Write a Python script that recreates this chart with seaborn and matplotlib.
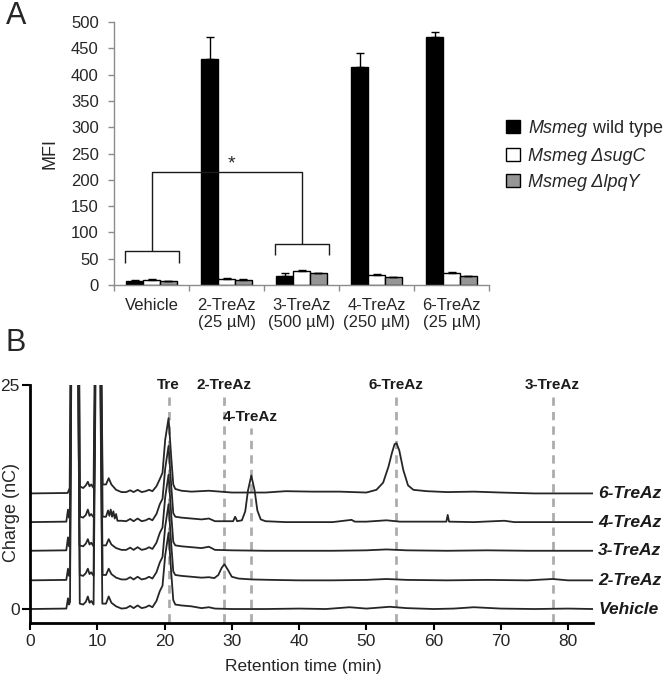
import numpy as np
import pandas as pd
import matplotlib
matplotlib.use("Agg")
import matplotlib.pyplot as plt
import seaborn as sns
from matplotlib.patches import Patch
from matplotlib.transforms import blended_transform_factory

# ---------------- Panel A data ----------------
conditions = ["Vehicle", "2-TreAz\n(25 µM)", "3-TreAz\n(500 µM)", "4-TreAz\n(250 µM)", "6-TreAz\n(25 µM)"]
strains = ["Msmeg wild type", "Msmeg ΔsugC", "Msmeg ΔlpqY"]
mfi_wt = [7, 430, 18, 415, 472]
mfi_sugc = [9, 12, 27, 19, 23]
mfi_lpqy = [7, 10, 22, 15, 17]
err_wt = [2, 42, 4, 27, 9]
err_sugc = [1.5, 1, 2, 2, 2]
err_lpqy = [1, 1, 0.5, 0.5, 1]
bar_colors = ["#000000", "#ffffff", "#969696"]

# ---------------- Panel B data (chromatograms, values relative to own baseline) ----------------
trace_names = ["Vehicle", "2-TreAz", "3-TreAz", "4-TreAz", "6-TreAz"]

t_vehicle = [0, 5.4, 5.65, 5.8, 5.95, 6.15, 6.45, 6.65, 6.95, 7.2, 7.4, 7.9, 8.3, 8.6, 8.85, 9.1, 9.45, 9.8, 10.1,
             10.4, 10.75, 11.3, 11.7, 12.1, 12.8, 13.6, 14.3, 14.9, 15.4, 16.0, 16.6, 17.2, 17.7, 18.2, 18.8,
             19.3, 19.7, 20.1, 20.6, 21.0, 21.3, 21.6, 22.5, 24.0, 25.5, 26.6, 27.5, 30, 35, 40, 44, 47.5,
             50, 53.5, 56, 60, 63, 66, 70, 75, 80, 83.7]
v_vehicle = [0, 0.05, 1.2, 0.5, 0.8, 30, 45, 35, 45, 25, 0.6, 0.5, 0.8, 1.4, 0.7, 0.9, 0.5, 30, 45,
             30, 0.6, 0.6, 1.4, 0.7, 0.3, 0.05, 0.1, 0.35, 0.1, 0.4, 0.1, 0.2, 0.4, 0.2, 0.9,
             2.0, 2.6, 6, 8.5, 4, 1.0, 0.5, 0.4, 0.3, 0.1, 0.2, 0.05, 0.0, 0.0, 0.05, 0, 0.2,
             0.05, 0.25, 0.1, 0, 0.05, 0.2, 0.05, 0.0, 0.05, 0]

t_2treaz = [0, 5.4, 5.65, 5.8, 5.95, 6.2, 6.5, 6.7, 7.0, 7.15, 7.4, 7.9, 8.3, 8.6, 8.85, 9.1, 9.45, 9.75, 10.1,
            10.45, 10.8, 11.3, 11.7, 12.1, 12.8, 13.6, 14.3, 14.9, 15.4, 16.0, 16.6, 17.2, 17.7, 18.2, 18.8,
            19.3, 19.7, 20.1, 20.6, 21.0, 21.3, 21.6, 22.5, 24.0, 25.5, 26.6, 27.4, 28.0, 28.5, 28.9,
            29.4, 30.0, 31, 33, 36, 40, 45, 50, 53, 56, 62, 68, 74, 77.7, 80, 83.7]
v_2treaz = [0, 0.05, 1.3, 0.5, 0.8, 30, 45, 35, 45, 25, 0.6, 0.5, 0.8, 1.3, 0.7, 0.9, 0.5, 30, 45,
            30, 0.6, 0.6, 1.3, 0.7, 0.3, 0.1, 0.1, 0.35, 0.1, 0.4, 0.1, 0.2, 0.4, 0.2, 0.9,
            2.0, 2.6, 6, 8.5, 4, 1.0, 0.6, 0.5, 0.4, 0.3, 0.35, 0.25, 0.6, 1.4, 1.8,
            1.2, 0.4, 0.2, 0.1, 0.05, 0, 0, 0.05, 0.15, 0.05, 0, 0.05, 0, 0.15, 0, 0]

t_3treaz = [0, 5.4, 5.65, 5.8, 5.95, 6.1, 6.4, 6.6, 6.9, 7.1, 7.35, 7.9, 8.3, 8.6, 8.85, 9.1, 9.45, 9.8, 10.1,
            10.35, 10.7, 11.3, 11.7, 12.1, 12.8, 13.6, 14.3, 14.9, 15.4, 16.0, 16.6, 17.2, 17.7, 18.2, 18.8,
            19.3, 19.7, 20.1, 20.6, 21.0, 21.3, 21.6, 22.5, 24.0, 25.5, 26.6, 27.5, 30, 35, 40, 45, 50,
            53, 56, 62, 68, 74, 80, 83.7]
v_3treaz = [0, 0.05, 1.5, 0.5, 0.8, 30, 45, 35, 45, 25, 0.6, 0.5, 0.8, 1.3, 0.7, 0.9, 0.5, 30, 45,
            30, 0.6, 0.6, 1.3, 0.7, 0.3, 0.1, 0.1, 0.35, 0.1, 0.4, 0.1, 0.2, 0.4, 0.2, 0.9,
            2.0, 2.6, 6, 8.5, 4, 1.0, 0.6, 0.5, 0.4, 0.3, 0.45, 0.1, 0.05, 0, 0, 0, 0.05,
            0.15, 0.05, 0, 0.05, 0, 0, 0]

t_4treaz = [0, 5.4, 5.65, 5.8, 5.95, 6.25, 6.5, 6.75, 7.0, 7.25, 7.45, 7.9, 8.3, 8.6, 8.85, 9.1, 9.5, 9.85, 10.15,
            10.45, 10.8, 11.3, 11.6, 11.8, 12.0, 12.2, 12.4, 12.6, 12.8, 13.0, 13.6, 14.3, 14.9, 15.4, 16.0,
            16.6, 17.2, 17.7, 18.2, 18.8, 19.3, 19.7, 20.1, 20.6, 21.0, 21.3, 21.6, 22.5, 24.0, 25.5, 26.6,
            27.5, 30.2, 30.5, 30.8, 31.5, 32.0, 32.4, 32.9, 33.4, 33.8, 34.3, 35, 38, 45, 47.8, 48.3, 50,
            53, 55, 61.9, 62.1, 62.3, 66, 70.5, 72, 80, 83.7]
v_4treaz = [0, 0.05, 1.4, 0.5, 0.8, 30, 45, 35, 45, 25, 0.6, 0.5, 0.8, 1.4, 0.7, 0.9, 0.5, 30, 45,
            30, 0.6, 0.6, 1.3, 0.7, 1.4, 0.6, 1.2, 0.4, 0.9, 0.15, 0.15, 0.1, 0.35, 0.1, 0.4,
            0.1, 0.2, 0.4, 0.2, 0.9, 2.0, 2.6, 6, 8.5, 4, 1.0, 0.6, 0.5, 0.4, 0.3, 0.4,
            0.1, 0.1, 0.6, 0.1, 0.2, 1.2, 3.5, 5.2, 3.5, 1.3, 0.3, 0.1, 0.0, 0.0, 0.25, 0.05, 0.05,
            0.2, 0.05, 0.05, 0.8, 0.05, 0, 0.15, 0, 0, 0]

t_6treaz = [0, 5.6, 5.9, 6.15, 6.45, 6.7, 6.95, 7.2, 7.4, 7.9, 8.3, 8.6, 8.85, 9.1, 9.45, 9.8, 10.1,
            10.4, 10.8, 11.3, 11.7, 12.1, 12.8, 13.6, 14.3, 14.9, 15.4, 16.0, 16.6, 17.2, 17.7, 18.2, 18.8,
            19.3, 19.7, 20.1, 20.6, 21.0, 21.3, 21.6, 22.5, 24.0, 26.6, 30, 35, 38, 42, 46, 50, 51.5,
            52.5, 53.3, 53.8, 54.2, 54.5, 54.9, 55.5, 56.2, 57, 59, 62, 66, 70, 75, 80, 83.7]
v_6treaz = [0, 0.05, 0.6, 30, 45, 35, 45, 25, 0.8, 0.6, 0.9, 1.3, 0.8, 1.0, 0.6, 30, 45,
            30, 1.0, 1.0, 1.7, 1.0, 0.4, 0.15, 0.15, 0.35, 0.15, 0.4, 0.15, 0.25, 0.4, 0.25, 0.8,
            1.6, 2.3, 6, 8.4, 4, 1.0, 0.5, 0.3, 0.2, 0.3, 0.1, 0.1, 0.25, 0.2, 0.2, 0.1, 0.4,
            1.2, 3.0, 4.5, 5.5, 5.6, 4.8, 2.6, 0.9, 0.4, 0.25, 0.15, 0.2, 0.1, 0.0, 0.0, 0.0]

trace_times = [t_vehicle, t_2treaz, t_3treaz, t_4treaz, t_6treaz]
trace_values = [v_vehicle, v_2treaz, v_3treaz, v_4treaz, v_6treaz]

marker_names = ["Tre", "2-TreAz", "4-TreAz", "6-TreAz", "3-TreAz"]
marker_times = [20.6, 28.8, 32.8, 54.4, 77.7]

# ---------------- style ----------------
sns.set_style("ticks")
plt.rcParams["font.family"] = ["Liberation Sans", "DejaVu Sans"]
plt.rcParams["mathtext.fontset"] = "custom"
plt.rcParams["mathtext.it"] = "Liberation Sans:italic"
plt.rcParams["mathtext.rm"] = "Liberation Sans"

W, H = 664, 677
fig = plt.figure(figsize=(W / 100, H / 100), dpi=100)
fig.patch.set_facecolor("white")

def fx(px):
    return px / W

def fy(py):
    return 1 - py / H

# ---------------- Panel A ----------------
axA = fig.add_axes([fx(114), fy(285), fx(489) - fx(114), fy(22) - fy(285)])
df = pd.DataFrame({
    "condition": np.repeat(conditions, 3),
    "strain": strains * len(conditions),
    "MFI": np.ravel(np.column_stack([mfi_wt, mfi_sugc, mfi_lpqy])),
})
sns.barplot(data=df, x="condition", y="MFI", hue="strain", hue_order=strains, order=conditions,
            palette=bar_colors, edgecolor="black", linewidth=1.0, width=0.67, gap=0,
            errorbar=None, legend=False, ax=axA, saturation=1)

errs = [err_wt, err_sugc, err_lpqy]
n = len(conditions)
for i in range(3):
    patches = axA.patches[i * n:(i + 1) * n]
    xs = [p.get_x() + p.get_width() / 2 for p in patches]
    hs = [p.get_height() for p in patches]
    axA.errorbar(xs, hs, yerr=[np.zeros(n), errs[i]], fmt="none", ecolor="black",
                 elinewidth=1.0, capsize=3, capthick=1.0, zorder=1)

axA.set_xlim(-0.5, 4.5)
axA.set_ylim(0, 500)
axA.set_yticks(np.arange(0, 501, 50))
axA.set_xticks(range(n))
axA.set_xticklabels(conditions, fontsize=12, linespacing=1.2)
axA.set_xticks(np.arange(-0.5, n, 1.0), minor=True)
axA.tick_params(axis="x", which="major", length=0, pad=9)
axA.tick_params(axis="x", which="minor", length=4, color="#8c8c8c", width=1, direction="out")
axA.tick_params(axis="y", length=4, color="#8c8c8c", width=1, labelsize=12, pad=7)
axA.set_xlabel("")
axA.set_ylabel("MFI", fontsize=13)
axA.yaxis.set_label_coords(-0.149, 0.5)
for s in ["top", "right"]:
    axA.spines[s].set_visible(False)
for s in ["left", "bottom"]:
    axA.spines[s].set_color("#8c8c8c")
    axA.spines[s].set_linewidth(1.0)

# significance brackets
bk = dict(color="#1a1a1a", lw=1.0, solid_capstyle="butt", clip_on=False)
axA.plot([-0.36, -0.36, 0.36, 0.36], [42, 64, 64, 42], **bk)
axA.plot([2 - 0.36, 2 - 0.36, 2 + 0.36, 2 + 0.36], [57, 78, 78, 57], **bk)
axA.plot([0, 0, 2, 2], [64, 215, 215, 78], **bk)
axA.text(1.07, 230, "*", ha="center", va="center", fontsize=14)

# legend
handles = [Patch(facecolor=c, edgecolor="black", linewidth=1.0) for c in bar_colors]
labels = [r"$\mathit{Msmeg}$ wild type", "Msmeg ΔsugC", "Msmeg ΔlpqY"]
leg = fig.legend(handles, labels, loc="upper left", bbox_to_anchor=(fx(506), fy(118)),
                 frameon=False, fontsize=13, handlelength=0.75, handleheight=0.75,
                 handletextpad=0.45, labelspacing=0.5, borderaxespad=0, borderpad=0)
for t in leg.get_texts()[1:]:
    t.set_style("italic")

# ---------------- Panel B ----------------
axB = fig.add_axes([fx(30), fy(623), fx(593) - fx(30), fy(385) - fy(623)])
offsets = [0, 3.2, 6.5, 9.7, 12.9]
for name, tt, vv, off in zip(trace_names, trace_times, trace_values, offsets):
    sns.lineplot(x=tt, y=np.asarray(vv) + off, ax=axB, color="#262626", lw=1.3,
                 estimator=None, sort=False)

axB.set_xlim(0, 83.7)
axB.set_ylim(-1.56, 25)

label_y = [25, 25, 21.4, 25, 25]
for name, tm, ly in zip(marker_names, marker_times, label_y):
    axB.plot([tm, tm], [-1.45, ly - 1.2], color="#acacac", lw=2, dashes=(3, 2.2), zorder=0)
    axB.text(tm, ly, name, ha="center", va="center", fontsize=11, fontweight="bold",
             color="#1a1a1a")

trans = blended_transform_factory(axB.transAxes, axB.transData)
for name, off in zip(trace_names, offsets):
    axB.text(1.009, off, name, transform=trans, ha="left", va="center", fontsize=12.5,
             fontweight="bold", fontstyle="italic", color="#1a1a1a")

axB.set_xticks(np.arange(0, 81, 10))
axB.set_yticks([0, 25])
axB.tick_params(axis="x", length=5, width=1.5, labelsize=12.5, pad=3, color="black")
axB.tick_params(axis="y", length=6, width=1.5, labelsize=12.5, pad=1.5, color="black")
axB.set_xlabel("Retention time (min)", fontsize=12.5)
axB.xaxis.set_label_coords(0.486, -0.15)
axB.set_ylabel("Charge (nC)", fontsize=13)
axB.yaxis.set_label_coords(-0.018, 0.466)
for s in ["top", "right"]:
    axB.spines[s].set_visible(False)
for s in ["left", "bottom"]:
    axB.spines[s].set_color("black")
    axB.spines[s].set_linewidth(2.0)

# panel letters
fig.text(fx(16), fy(16), "A", fontsize=22, ha="center", va="center")
fig.text(fx(16), fy(343), "B", fontsize=22, ha="center", va="center")

fig.savefig("out.png", dpi=100, facecolor="white")
